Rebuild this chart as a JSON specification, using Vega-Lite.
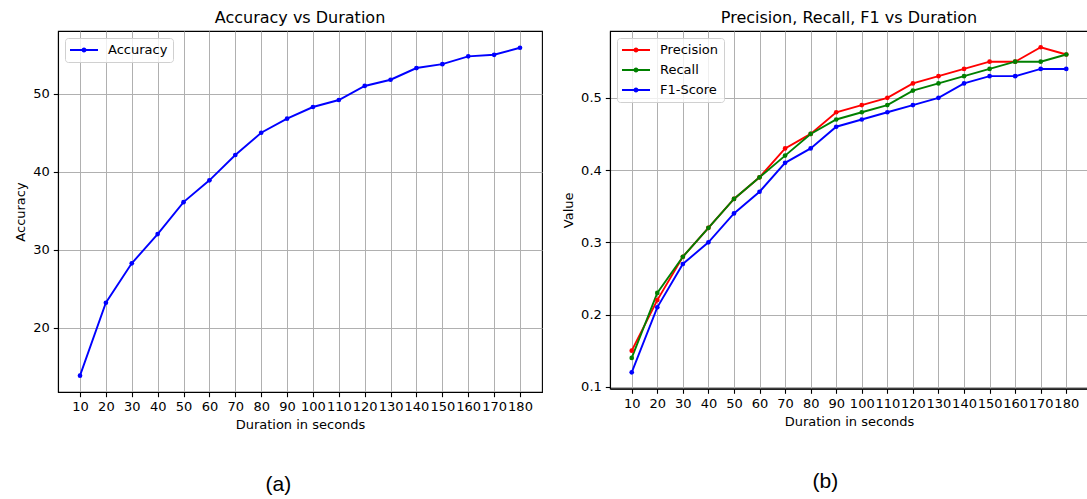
{
  "$schema": "https://vega.github.io/schema/vega-lite/v6.json",
  "background": "white",
  "padding": {"left": 14, "top": 5, "right": 0, "bottom": 0},
  "columns": 2,
  "align": "none",
  "spacing": 19,
  "config": {
    "font": "DejaVu Sans",
    "view": {"stroke": "#000000", "strokeWidth": 1.1},
    "axis": {
      "grid": true,
      "gridColor": "#b0b0b0",
      "gridWidth": 1,
      "domainColor": "#000000",
      "domainWidth": 1.1,
      "tickColor": "#000000",
      "tickWidth": 1.1,
      "tickSize": 4.7,
      "labelFontSize": 13,
      "labelColor": "#000000",
      "labelPadding": 4,
      "titleFontSize": 13,
      "titleFontWeight": "normal",
      "titleColor": "#000000",
      "titlePadding": 5,
      "labelOverlap": false,
      "labelFlush": false
    },
    "legend": {
      "title": null,
      "orient": "top-left",
      "offset": 7,
      "symbolType": "M-1,-0.136H3V0.136H-1Z M1.36,0A0.36,0.36,0,1,1,0.64,0A0.36,0.36,0,1,1,1.36,0Z",
      "symbolSize": 196,
      "symbolStrokeWidth": 0,
      "symbolOpacity": 1,
      "labelFontSize": 13,
      "labelColor": "#000000",
      "labelOffset": 24,
      "padding": 5,
      "rowPadding": 6,
      "strokeColor": "#d0d0d0",
      "fillColor": "rgba(255,255,255,0.8)",
      "cornerRadius": 3
    },
    "title": {"fontSize": 16, "fontWeight": "normal", "color": "#000000"}
  },
  "datasets": {
    "acc": [
      {"duration": 10, "series": "Accuracy", "accuracy": 13.85},
      {"duration": 20, "series": "Accuracy", "accuracy": 23.2},
      {"duration": 30, "series": "Accuracy", "accuracy": 28.25},
      {"duration": 40, "series": "Accuracy", "accuracy": 32.0},
      {"duration": 50, "series": "Accuracy", "accuracy": 36.1},
      {"duration": 60, "series": "Accuracy", "accuracy": 38.9},
      {"duration": 70, "series": "Accuracy", "accuracy": 42.15},
      {"duration": 80, "series": "Accuracy", "accuracy": 45.0},
      {"duration": 90, "series": "Accuracy", "accuracy": 46.8},
      {"duration": 100, "series": "Accuracy", "accuracy": 48.3},
      {"duration": 110, "series": "Accuracy", "accuracy": 49.2},
      {"duration": 120, "series": "Accuracy", "accuracy": 51.0},
      {"duration": 130, "series": "Accuracy", "accuracy": 51.8},
      {"duration": 140, "series": "Accuracy", "accuracy": 53.3},
      {"duration": 150, "series": "Accuracy", "accuracy": 53.8},
      {"duration": 160, "series": "Accuracy", "accuracy": 54.8},
      {"duration": 170, "series": "Accuracy", "accuracy": 55.0},
      {"duration": 180, "series": "Accuracy", "accuracy": 55.9}
    ],
    "prf": [
      {"duration": 10, "metric": "Precision", "value": 0.15},
      {"duration": 20, "metric": "Precision", "value": 0.22},
      {"duration": 30, "metric": "Precision", "value": 0.28},
      {"duration": 40, "metric": "Precision", "value": 0.32},
      {"duration": 50, "metric": "Precision", "value": 0.36},
      {"duration": 60, "metric": "Precision", "value": 0.39},
      {"duration": 70, "metric": "Precision", "value": 0.43},
      {"duration": 80, "metric": "Precision", "value": 0.45},
      {"duration": 90, "metric": "Precision", "value": 0.48},
      {"duration": 100, "metric": "Precision", "value": 0.49},
      {"duration": 110, "metric": "Precision", "value": 0.50},
      {"duration": 120, "metric": "Precision", "value": 0.52},
      {"duration": 130, "metric": "Precision", "value": 0.53},
      {"duration": 140, "metric": "Precision", "value": 0.54},
      {"duration": 150, "metric": "Precision", "value": 0.55},
      {"duration": 160, "metric": "Precision", "value": 0.55},
      {"duration": 170, "metric": "Precision", "value": 0.57},
      {"duration": 180, "metric": "Precision", "value": 0.56},
      {"duration": 10, "metric": "Recall", "value": 0.14},
      {"duration": 20, "metric": "Recall", "value": 0.23},
      {"duration": 30, "metric": "Recall", "value": 0.28},
      {"duration": 40, "metric": "Recall", "value": 0.32},
      {"duration": 50, "metric": "Recall", "value": 0.36},
      {"duration": 60, "metric": "Recall", "value": 0.39},
      {"duration": 70, "metric": "Recall", "value": 0.42},
      {"duration": 80, "metric": "Recall", "value": 0.45},
      {"duration": 90, "metric": "Recall", "value": 0.47},
      {"duration": 100, "metric": "Recall", "value": 0.48},
      {"duration": 110, "metric": "Recall", "value": 0.49},
      {"duration": 120, "metric": "Recall", "value": 0.51},
      {"duration": 130, "metric": "Recall", "value": 0.52},
      {"duration": 140, "metric": "Recall", "value": 0.53},
      {"duration": 150, "metric": "Recall", "value": 0.54},
      {"duration": 160, "metric": "Recall", "value": 0.55},
      {"duration": 170, "metric": "Recall", "value": 0.55},
      {"duration": 180, "metric": "Recall", "value": 0.56},
      {"duration": 10, "metric": "F1-Score", "value": 0.12},
      {"duration": 20, "metric": "F1-Score", "value": 0.21},
      {"duration": 30, "metric": "F1-Score", "value": 0.27},
      {"duration": 40, "metric": "F1-Score", "value": 0.30},
      {"duration": 50, "metric": "F1-Score", "value": 0.34},
      {"duration": 60, "metric": "F1-Score", "value": 0.37},
      {"duration": 70, "metric": "F1-Score", "value": 0.41},
      {"duration": 80, "metric": "F1-Score", "value": 0.43},
      {"duration": 90, "metric": "F1-Score", "value": 0.46},
      {"duration": 100, "metric": "F1-Score", "value": 0.47},
      {"duration": 110, "metric": "F1-Score", "value": 0.48},
      {"duration": 120, "metric": "F1-Score", "value": 0.49},
      {"duration": 130, "metric": "F1-Score", "value": 0.50},
      {"duration": 140, "metric": "F1-Score", "value": 0.52},
      {"duration": 150, "metric": "F1-Score", "value": 0.53},
      {"duration": 160, "metric": "F1-Score", "value": 0.53},
      {"duration": 170, "metric": "F1-Score", "value": 0.54},
      {"duration": 180, "metric": "F1-Score", "value": 0.54}
    ]
  },
  "concat": [
    {
      "title": {"text": "(a)", "orient": "bottom", "anchor": "middle", "font": "Liberation Sans", "fontSize": 21, "offset": 42},
      "vconcat": [
        {
          "title": {"text": "Accuracy vs Duration", "offset": 5, "frame": "group", "anchor": "middle"},
          "width": 484,
          "height": 361,
          "data": {"name": "acc"},
          "encoding": {
            "x": {"field": "duration", "type": "quantitative", "scale": {"domain": [1.5, 188.5], "nice": false, "zero": false},
                  "axis": {"title": "Duration in seconds", "values": [10,20,30,40,50,60,70,80,90,100,110,120,130,140,150,160,170,180]}},
            "y": {"field": "accuracy", "type": "quantitative", "scale": {"domain": [11.75, 58.05], "nice": false, "zero": false},
                  "axis": {"title": "Accuracy", "values": [20, 30, 40, 50]}},
            "color": {"field": "series", "type": "nominal", "scale": {"domain": ["Accuracy"], "range": ["#0000ff"]}}
          },
          "layer": [
            {"mark": {"type": "line", "strokeWidth": 1.9}},
            {"mark": {"type": "point", "filled": true, "size": 22, "opacity": 1}}
          ]
        }
      ]
    },
    {
      "title": {"text": "(b)", "orient": "bottom", "anchor": "middle", "font": "Liberation Sans", "fontSize": 21, "offset": 42},
      "vconcat": [
        {
          "title": {"text": ["", "Precision, Recall, F1 vs Duration"], "lineHeight": 4.4, "offset": 5, "frame": "group", "anchor": "middle"},
          "width": 478,
          "height": 357.6,
          "data": {"name": "prf"},
          "encoding": {
            "x": {"field": "duration", "type": "quantitative", "scale": {"domain": [1.5, 188.5], "nice": false, "zero": false},
                  "axis": {"title": "Duration in seconds", "values": [10,20,30,40,50,60,70,80,90,100,110,120,130,140,150,160,170,180]}},
            "y": {"field": "value", "type": "quantitative", "scale": {"domain": [0.0975, 0.5925], "nice": false, "zero": false},
                  "axis": {"title": "Value", "values": [0.1, 0.2, 0.3, 0.4, 0.5], "format": ".1f"}},
            "color": {"field": "metric", "type": "nominal", "sort": ["Precision", "Recall", "F1-Score"], "scale": {"domain": ["Precision", "Recall", "F1-Score"], "range": ["#ff0000", "#008000", "#0000ff"]}}
          },
          "layer": [
            {"mark": {"type": "line", "strokeWidth": 1.9}},
            {"mark": {"type": "point", "filled": true, "size": 22, "opacity": 1}}
          ]
        }
      ]
    }
  ],
  "resolve": {"scale": {"color": "independent"}, "legend": {"color": "independent"}}
}
